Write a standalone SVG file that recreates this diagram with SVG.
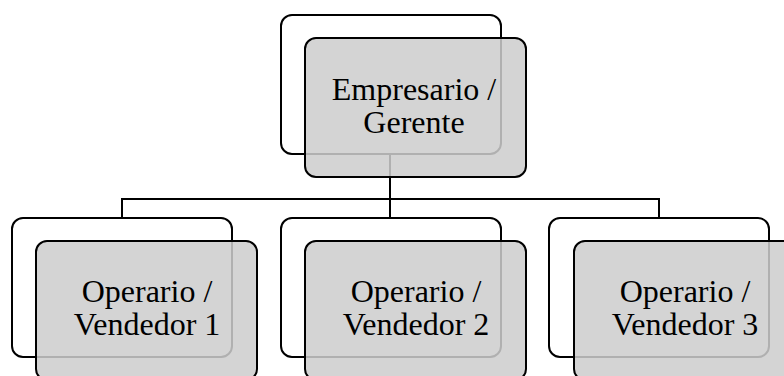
<svg xmlns="http://www.w3.org/2000/svg" width="784" height="376" viewBox="0 0 784 376">
<style>
.back{fill:#ffffff;stroke:#000;stroke-width:2}
.front{fill:#cdcdcd;fill-opacity:0.86;stroke:#000;stroke-width:2}
.conn{fill:none;stroke:#000;stroke-width:2}
.t{font-family:"Liberation Serif","Times New Roman",serif;font-size:32px;fill:#000;text-anchor:middle}
</style>
<rect width="784" height="376" fill="#fff"/>
<g id="connectors">
<path class="conn" d="M390,154 V199 M122,218 V199 H659 V218 M390,199 V218"/>
</g>
<g id="node-gerente">
<rect class="back" x="281" y="15" width="220" height="139" rx="11"/>
<rect class="front" x="305" y="38" width="221" height="139" rx="11"/>
<text class="t" x="414" y="100">Empresario /</text>
<text class="t" x="414" y="133">Gerente</text>
</g>
<g id="node-vendedor1">
<rect class="back" x="12" y="218" width="220" height="139" rx="11"/>
<rect class="front" x="36" y="241" width="221" height="139" rx="11"/>
<text class="t" x="147" y="302">Operario /</text>
<text class="t" x="147" y="335">Vendedor 1</text>
</g>
<g id="node-vendedor2">
<rect class="back" x="281" y="218" width="220" height="139" rx="11"/>
<rect class="front" x="305" y="241" width="221" height="139" rx="11"/>
<text class="t" x="416" y="302">Operario /</text>
<text class="t" x="416" y="335">Vendedor 2</text>
</g>
<g id="node-vendedor3">
<rect class="back" x="549" y="218" width="220" height="139" rx="11"/>
<rect class="front" x="574" y="241" width="221" height="139" rx="11"/>
<text class="t" x="685" y="302">Operario /</text>
<text class="t" x="685" y="335">Vendedor 3</text>
</g>
</svg>
